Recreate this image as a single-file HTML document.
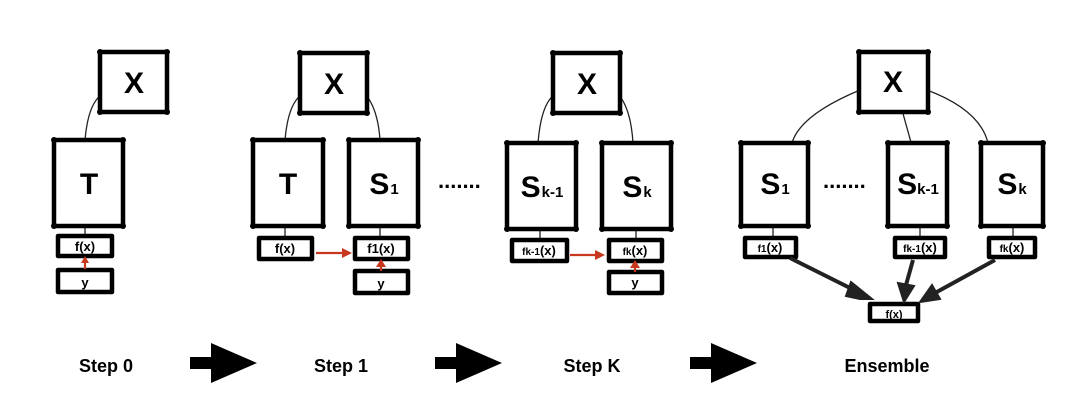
<!DOCTYPE html>
<html><head><meta charset="utf-8"><style>
html,body{margin:0;padding:0;background:#fff;}
svg{display:block;font-family:"Liberation Sans",Arial,sans-serif;}
.b{fill:#fff;stroke:#000;stroke-width:4.5;stroke-linejoin:round;}
.c{fill:#000;}
.l{fill:none;stroke:#222;stroke-width:1.3;}
.big{font-size:30px;font-weight:bold;}
.sm{font-size:13px;font-weight:bold;}
.st{font-size:18px;font-weight:bold;}
</style></head><body>
<svg width="1080" height="407" viewBox="0 0 1080 407" xmlns="http://www.w3.org/2000/svg">
<path class="l" d="M101,95 Q88,105 85,140"/>
<path class="l" d="M85,226 V236"/>
<path class="l" d="M301,95 Q288,105 285,140"/>
<path class="l" d="M366,95 Q378,110 380,140"/>
<path class="l" d="M285,226 V238 M380,226 V238"/>
<path class="l" d="M554,95 Q541,105 538,143"/>
<path class="l" d="M619,95 Q631,110 633,143"/>
<path class="l" d="M540,229 V239 M636,229 V239"/>
<path class="l" d="M860,90 Q800,115 792,143"/>
<path class="l" d="M902,110 L912,146"/>
<path class="l" d="M927,90 Q980,110 988,143"/>
<path class="l" d="M773,226 V238 M920,226 V238 M1013,226 V238"/>

<rect class="b" x="100" y="52" width="67" height="60"/>
<rect class="b" x="54" y="140" width="69" height="86"/>
<rect class="b" x="58" y="236" width="54" height="20"/>
<rect class="b" x="58" y="270" width="54" height="22"/>
<rect class="b" x="300" y="53" width="67" height="60"/>
<rect class="b" x="253" y="140" width="70" height="86"/>
<rect class="b" x="349" y="140" width="69" height="86"/>
<rect class="b" x="259" y="238" width="53" height="21"/>
<rect class="b" x="355" y="238" width="53" height="21"/>
<rect class="b" x="355" y="271" width="53" height="22"/>
<rect class="b" x="553" y="53" width="67" height="60"/>
<rect class="b" x="507" y="143" width="69" height="86"/>
<rect class="b" x="602" y="143" width="69" height="86"/>
<rect class="b" x="512" y="240" width="55" height="21"/>
<rect class="b" x="609" y="240" width="53" height="21"/>
<rect class="b" x="609" y="272" width="53" height="21"/>
<rect class="b" x="859" y="52" width="69" height="60"/>
<rect class="b" x="741" y="143" width="67" height="83"/>
<rect class="b" x="888" y="143" width="59" height="83"/>
<rect class="b" x="981" y="143" width="62" height="83"/>
<rect class="b" x="745" y="238" width="51" height="19"/>
<rect class="b" x="895" y="238" width="50" height="19"/>
<rect class="b" x="989" y="238" width="46" height="19"/>
<rect class="b" x="870" y="304" width="48" height="17"/>
<g class="c">
<circle cx="100" cy="52" r="3"/><circle cx="167" cy="52" r="3"/><circle cx="100" cy="112" r="3"/><circle cx="167" cy="112" r="3"/>
<circle cx="54" cy="140" r="3"/><circle cx="123" cy="140" r="3"/><circle cx="54" cy="226" r="3"/><circle cx="123" cy="226" r="3"/>
<circle cx="300" cy="53" r="3"/><circle cx="367" cy="53" r="3"/><circle cx="300" cy="113" r="3"/><circle cx="367" cy="113" r="3"/>
<circle cx="253" cy="140" r="3"/><circle cx="323" cy="140" r="3"/><circle cx="253" cy="226" r="3"/><circle cx="323" cy="226" r="3"/>
<circle cx="349" cy="140" r="3"/><circle cx="418" cy="140" r="3"/><circle cx="349" cy="226" r="3"/><circle cx="418" cy="226" r="3"/>
<circle cx="553" cy="53" r="3"/><circle cx="620" cy="53" r="3"/><circle cx="553" cy="113" r="3"/><circle cx="620" cy="113" r="3"/>
<circle cx="507" cy="143" r="3"/><circle cx="576" cy="143" r="3"/><circle cx="507" cy="229" r="3"/><circle cx="576" cy="229" r="3"/>
<circle cx="602" cy="143" r="3"/><circle cx="671" cy="143" r="3"/><circle cx="602" cy="229" r="3"/><circle cx="671" cy="229" r="3"/>
<circle cx="859" cy="52" r="3"/><circle cx="928" cy="52" r="3"/><circle cx="859" cy="112" r="3"/><circle cx="928" cy="112" r="3"/>
<circle cx="741" cy="143" r="3"/><circle cx="808" cy="143" r="3"/><circle cx="741" cy="226" r="3"/><circle cx="808" cy="226" r="3"/>
<circle cx="888" cy="143" r="3"/><circle cx="947" cy="143" r="3"/><circle cx="888" cy="226" r="3"/><circle cx="947" cy="226" r="3"/>
<circle cx="981" cy="143" r="3"/><circle cx="1043" cy="143" r="3"/><circle cx="981" cy="226" r="3"/><circle cx="1043" cy="226" r="3"/>
</g>
<g class="big" text-anchor="middle">
<text x="134" y="93">X</text>
<text x="334" y="94">X</text>
<text x="587" y="94">X</text>
<text x="893" y="92">X</text>
<text x="89" y="194">T</text>
<text x="288" y="194">T</text>
<text x="384" y="194">S<tspan font-size="15" dx="1">1</tspan></text>
<text x="542" y="197">S<tspan font-size="15" dx="1">k-1</tspan></text>
<text x="637" y="197">S<tspan font-size="15" dx="1">k</tspan></text>
<text x="775" y="194">S<tspan font-size="15" dx="1">1</tspan></text>
<text x="918" y="194">S<tspan font-size="15" dx="0">k-1</tspan></text>
<text x="1012" y="194">S<tspan font-size="15" dx="1">k</tspan></text>
</g>
<g class="sm" text-anchor="middle">
<text x="85" y="251">f(x)</text>
<text x="85" y="287">y</text>
<text x="285" y="253">f(x)</text>
<text x="381" y="253">f1(x)</text>
<text x="381" y="288">y</text>
<text x="539" y="255"><tspan font-size="10">fk-1</tspan>(x)</text>
<text x="635" y="255"><tspan font-size="10">fk</tspan>(x)</text>
<text x="635" y="287">y</text>
<text x="770" y="252"><tspan font-size="10">f1</tspan>(x)</text>
<text x="920" y="252"><tspan font-size="10">fk-1</tspan>(x)</text>
<text x="1012" y="252"><tspan font-size="10">fk</tspan>(x)</text>
<text x="894" y="318" font-size="11">f(x)</text>
</g>
<g font-size="22" font-weight="bold"><text x="438" y="188">.......</text><text x="823" y="188">.......</text></g>
<g stroke="#c8381f" stroke-width="2.2" fill="#c8381f">
<line x1="85" y1="269" x2="85" y2="262"/><polygon points="81,263 89,263 85,256" stroke="none"/>
<line x1="316" y1="253" x2="343" y2="253"/><polygon points="342,248 352,253 342,258" stroke="none"/>
<line x1="381" y1="271" x2="381" y2="265"/><polygon points="376,267 386,267 381,259" stroke="none"/>
<line x1="570" y1="255" x2="596" y2="255"/><polygon points="595,250 605,255 595,260" stroke="none"/>
<line x1="635" y1="272" x2="635" y2="266"/><polygon points="630,268 640,268 635,260" stroke="none"/>
</g>
<g stroke="#222" stroke-width="4" fill="#222">
<line x1="790" y1="258" x2="858" y2="292"/><polygon points="851,282 872,299 860,299 846,296" stroke-width="2"/>
<line x1="913" y1="260" x2="906" y2="285"/><polygon points="898,283 914,286 904,302" stroke-width="2"/>
<line x1="995" y1="260" x2="935" y2="293"/><polygon points="932,285 940,299 920,302" stroke-width="2"/>
</g>
<g fill="#000">
<polygon points="190,357 211,357 211,343 257,363 211,383 211,369 190,369"/>
<polygon points="435,357 456,357 456,343 502,363 456,383 456,369 435,369"/>
<polygon points="690,357 711,357 711,343 757,363 711,383 711,369 690,369"/>
</g>
<g class="st" text-anchor="middle">
<text x="106" y="372">Step 0</text>
<text x="341" y="372">Step 1</text>
<text x="592" y="372">Step K</text>
<text x="887" y="372">Ensemble</text>
</g>
</svg>
</body></html>
